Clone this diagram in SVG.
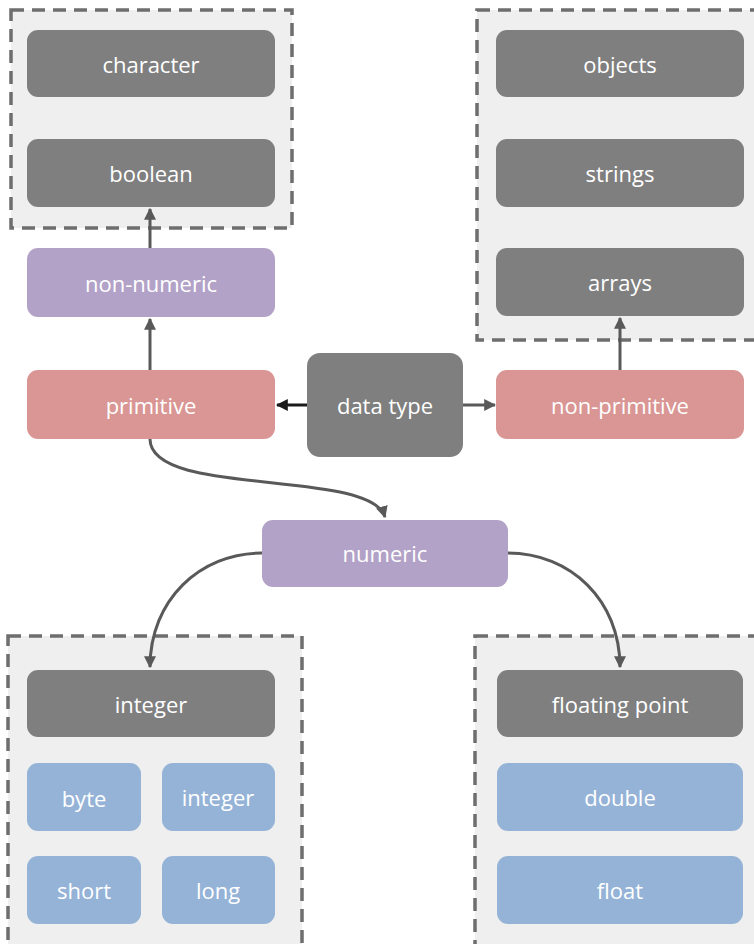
<svg xmlns="http://www.w3.org/2000/svg" width="754" height="944" viewBox="0 0 754 944">
  <style>
    .grp { fill: #efefef; stroke: #6e6e6e; stroke-width: 3.5; stroke-dasharray: 13 8; }
    .gray { fill: #7f7f7f; }
    .red { fill: #d99694; }
    .purple { fill: #b3a2c7; }
    .blue { fill: #95b3d7; }
    text { font-family: "Open Sans", "Noto Sans", "DejaVu Sans", sans-serif; font-size: 22px; fill: #ffffff; text-anchor: middle; dominant-baseline: central; }
    .edge { fill: none; stroke: #595959; stroke-width: 3; }
    .edge-dark { fill: none; stroke: #1a1a1a; stroke-width: 3; }
  </style>
  <defs>
    <marker id="arrow" viewBox="0 0 10 10" refX="9" refY="5" markerWidth="4" markerHeight="4" orient="auto" markerUnits="strokeWidth">
      <path d="M0,0 L10,5 L0,10 z" fill="#595959"/>
    </marker>
    <marker id="arrow-dark" viewBox="0 0 10 10" refX="9" refY="5" markerWidth="4" markerHeight="4" orient="auto" markerUnits="strokeWidth">
      <path d="M0,0 L10,5 L0,10 z" fill="#1a1a1a"/>
    </marker>
  </defs>

  <!-- dashed groupings -->
  <g id="group-nonnumeric">
    <rect class="grp" x="11" y="10" width="281" height="218"/>
  </g>
  <g id="group-nonprimitive">
    <rect class="grp" x="477" y="10" width="290" height="330"/>
  </g>
  <g id="group-integer">
    <rect class="grp" x="8" y="636" width="294" height="320"/>
  </g>
  <g id="group-floating">
    <rect class="grp" x="475" y="636" width="290" height="320"/>
  </g>

  <!-- connectors -->
  <g id="connectors">
    <line class="edge-dark" x1="307" y1="405" x2="277" y2="405" marker-end="url(#arrow-dark)"/>
    <line class="edge" x1="463" y1="405" x2="495" y2="405" marker-end="url(#arrow)"/>
    <line class="edge" x1="150" y1="370" x2="150" y2="319" marker-end="url(#arrow)"/>
    <line class="edge" x1="150" y1="248" x2="150" y2="209" marker-end="url(#arrow)"/>
    <line class="edge" x1="620" y1="370" x2="620" y2="318" marker-end="url(#arrow)"/>
    <path class="edge" d="M150,439 C150,498 370,468 385,517" marker-end="url(#arrow)"/>
    <path class="edge" d="M262,553 C200,553 150,600 150,667" marker-end="url(#arrow)"/>
    <path class="edge" d="M508,553 C570,553 620,600 620,667" marker-end="url(#arrow)"/>
  </g>

  <!-- top-left: non-numeric members -->
  <g id="character">
    <rect class="gray" x="27" y="30" width="248" height="67" rx="11"/>
    <text x="151" y="64">character</text>
  </g>
  <g id="boolean">
    <rect class="gray" x="27" y="139" width="248" height="68" rx="11"/>
    <text x="151" y="173">boolean</text>
  </g>
  <g id="non-numeric">
    <rect class="purple" x="27" y="248" width="248" height="69" rx="11"/>
    <text x="151" y="283">non-numeric</text>
  </g>
  <g id="primitive">
    <rect class="red" x="27" y="370" width="248" height="69" rx="11"/>
    <text x="151" y="405">primitive</text>
  </g>
  <g id="data-type">
    <rect class="gray" x="307" y="353" width="156" height="104" rx="13"/>
    <text x="385" y="405">data type</text>
  </g>

  <!-- top-right: non-primitive members -->
  <g id="objects">
    <rect class="gray" x="496" y="30" width="248" height="67" rx="11"/>
    <text x="620" y="64">objects</text>
  </g>
  <g id="strings">
    <rect class="gray" x="496" y="139" width="248" height="68" rx="11"/>
    <text x="620" y="173">strings</text>
  </g>
  <g id="arrays">
    <rect class="gray" x="496" y="248" width="248" height="68" rx="11"/>
    <text x="620" y="282">arrays</text>
  </g>
  <g id="non-primitive">
    <rect class="red" x="496" y="370" width="248" height="69" rx="11"/>
    <text x="620" y="405">non-primitive</text>
  </g>

  <!-- numeric branch -->
  <g id="numeric">
    <rect class="purple" x="262" y="520" width="246" height="67" rx="11"/>
    <text x="385" y="553">numeric</text>
  </g>
  <g id="integer-header">
    <rect class="gray" x="27" y="670" width="248" height="67" rx="11"/>
    <text x="151" y="704">integer</text>
  </g>
  <g id="byte">
    <rect class="blue" x="27" y="763" width="114" height="68" rx="11"/>
    <text x="84" y="798">byte</text>
  </g>
  <g id="integer">
    <rect class="blue" x="162" y="763" width="113" height="68" rx="11"/>
    <text x="218" y="797">integer</text>
  </g>
  <g id="short">
    <rect class="blue" x="27" y="856" width="114" height="68" rx="11"/>
    <text x="84" y="890">short</text>
  </g>
  <g id="long">
    <rect class="blue" x="162" y="856" width="113" height="68" rx="11"/>
    <text x="218" y="890">long</text>
  </g>
  <g id="floating-point">
    <rect class="gray" x="497" y="670" width="246" height="67" rx="11"/>
    <text x="620" y="704">floating point</text>
  </g>
  <g id="double">
    <rect class="blue" x="497" y="763" width="246" height="68" rx="11"/>
    <text x="620" y="797">double</text>
  </g>
  <g id="float">
    <rect class="blue" x="497" y="856" width="246" height="68" rx="11"/>
    <text x="620" y="890">float</text>
  </g>
</svg>
